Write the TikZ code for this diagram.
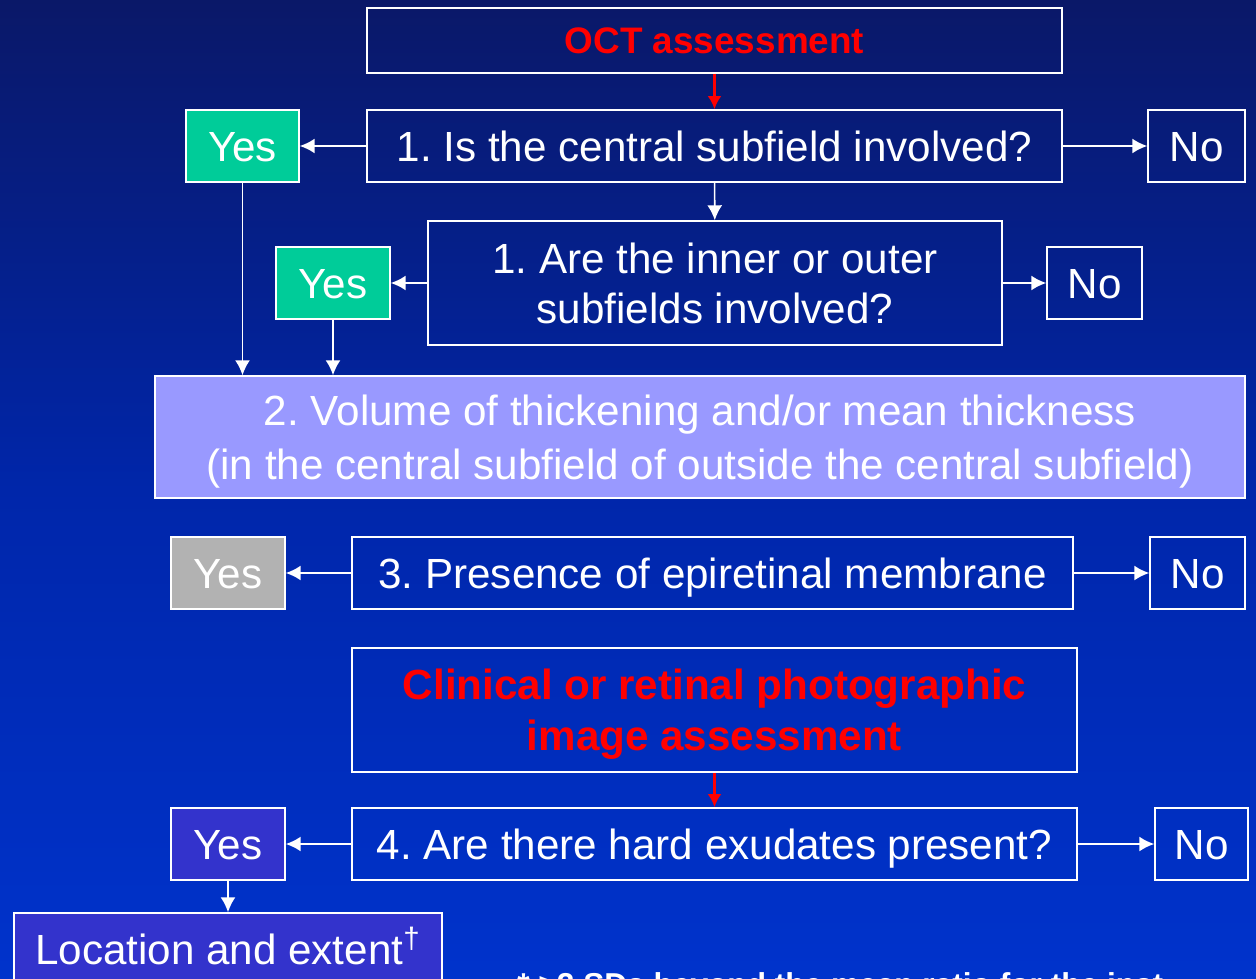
\documentclass[tikz,border=0pt]{standalone}
\usepackage{fontspec}
\setmainfont{Liberation Sans}
\usetikzlibrary{arrows.meta}
\definecolor{bgtop}{RGB}{10,24,104}
\definecolor{bgmid}{RGB}{0,38,170}
\definecolor{bgbot}{RGB}{0,51,204}
\definecolor{yesgreen}{RGB}{0,204,153}
\definecolor{volfill}{RGB}{153,153,255}
\definecolor{yesgray}{RGB}{178,178,178}
\definecolor{yespurple}{RGB}{51,51,204}
\frenchspacing

\begin{document}
\begin{tikzpicture}
      \tikzstyle{every node}=[rectangle, inner sep=0pt, text=white, font=\fontsize{24}{28.5}\selectfont, align=center]
      \tikzstyle{box}=[draw=white, line width=0.9pt, minimum height=1.44cm]
      \tikzstyle{oneline}=[box, text height=17.2pt, text depth=0pt]
      \tikzstyle{redtitle}=[text=red, font=\fontsize{24}{29}\selectfont\bfseries]
      \tikzstyle{wire}=[white, line width=0.9pt, -{Latex[length=8.5pt,width=8.5pt]}]
      \tikzstyle{redwire}=[red, line width=2.2pt, -{Latex[length=7.5pt,width=8pt]}]

      \shade[top color=bgtop, bottom color=bgbot, middle color=bgmid] (0,0) rectangle (25.12,-19.58);
      \useasboundingbox (0,0) rectangle (25.12,-19.58);

      \node[oneline, minimum width=13.9cm, minimum height=1.3cm, text height=15pt, redtitle, font=\fontsize{21}{25}\selectfont\bfseries] (oct) at (14.29,-0.81) {OCT assessment};
      \node[oneline, minimum width=13.9cm]  (q1)   at (14.29,-2.92) {1. Is the central subfield involved?};
      \node[oneline, minimum width=2.26cm, fill=yesgreen] (yes1) at (4.85,-2.92) {Yes};
      \node[oneline, minimum width=1.94cm]  (no1)  at (23.93,-2.92) {No};

      \node[box, minimum width=11.48cm, minimum height=2.48cm] (q1b) at (14.30,-5.66) {1. Are the inner or outer\\subfields involved?};
      \node[oneline, minimum width=2.28cm, fill=yesgreen] (yes2) at (6.66,-5.66) {Yes};
      \node[oneline, minimum width=1.9cm]   (no2)  at (21.89,-5.66) {No};

      \node[box, minimum width=21.8cm, minimum height=2.44cm, fill=volfill, text depth=0pt, font=\fontsize{24}{30.5}\selectfont] (vol) at (14.00,-8.74) {2. Volume of thickening and/or mean thickness\\(in the central subfield of outside the central subfield)};

      \node[oneline, minimum width=14.42cm] (q3)   at (14.25,-11.46) {3. Presence of epiretinal membrane};
      \node[oneline, minimum width=2.28cm, fill=yesgray] (yes3) at (4.56,-11.46) {Yes};
      \node[oneline, minimum width=1.9cm]   (no3)  at (23.95,-11.46) {No};

      \node[box, minimum width=14.5cm, minimum height=2.48cm, text depth=0pt, redtitle] (clin) at (14.29,-14.20) {Clinical or retinal photographic\\image assessment};
      \node[oneline, minimum width=14.5cm]  (q4)   at (14.29,-16.88) {4. Are there hard exudates present?};
      \node[oneline, minimum width=2.28cm, fill=yespurple] (yes4) at (4.56,-16.88) {Yes};
      \node[oneline, minimum width=1.86cm]  (no4)  at (24.03,-16.88) {No};

      \node[oneline, minimum width=8.56cm, fill=yespurple] (loc) at (4.56,-18.98) {Location and extent\textsuperscript{\dag}};
      \node[anchor=base west, font=\fontsize{18}{22}\selectfont\bfseries] (foot) at (10.34,-19.90) {* >2 SDs beyond the mean ratio for the inst};

    	\draw[redwire] (oct) -- (q1);
    	\draw[wire] (q1) -- (yes1);
    	\draw[wire] (q1) -- (no1);
      \draw[wire] (q1) -- (q1b);
    	\draw[wire] (q1b) -- (yes2);
      \draw[wire] (q1b) -- (no2);
    	\draw[wire] (yes1) -- (yes1 |- vol.north);
    	\draw[wire] (yes2) -- (yes2 |- vol.north);
      \draw[wire] (q3) -- (yes3);
      \draw[wire] (q3) -- (no3);
    	\draw[redwire] (clin) -- (q4);
      \draw[wire] (q4) -- (yes4);
      \draw[wire] (q4) -- (no4);
    	\draw[wire] (yes4) -- (loc);
    \end{tikzpicture}
\end{document}
